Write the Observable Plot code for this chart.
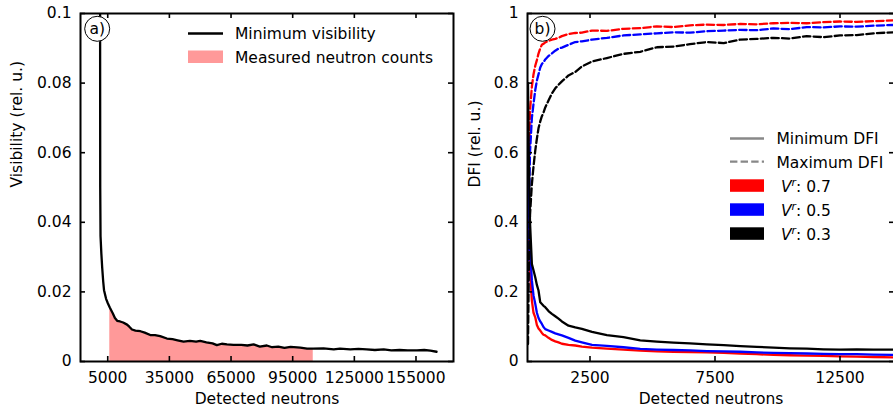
<!DOCTYPE html>
<html><head><meta charset="utf-8">
<script src="https://cdn.jsdelivr.net/npm/d3@7"></script>
<script src="https://cdn.jsdelivr.net/npm/@observablehq/plot@0.6"></script>
<style>
body{margin:0;background:#fff;overflow:hidden}
#wrap{position:relative;width:893px;height:416px;overflow:hidden;font-family:"DejaVu Sans",sans-serif;background:#fff}
#wrap > svg{position:absolute;top:0}
</style></head><body><div id="wrap"></div>
<script>
// ---- Panel a data: minimum visibility vs detected neutrons ----
const visN = [1150, 1350, 1500, 1900, 2300, 2800, 3200, 4200, 5000, 6000, 7500, 8500, 9600, 11000, 12500, 14400, 15500, 16800, 18500, 20900, 23000, 25700, 28000, 30500, 33800, 36500, 39000, 41900, 45000, 48000, 50000, 53000, 56000, 58100, 60500, 63000, 66200, 70000, 73000, 76000, 79000, 82400, 85000, 88000, 91000, 94000, 98700, 102000, 105000, 110000, 115000, 118000, 123000, 127000, 131000, 135000, 139300, 143000, 147000, 151000, 155500, 159000, 162000, 165000];
const visV = [0.2, 0.05, 0.036, 0.031, 0.027, 0.023, 0.0205, 0.018, 0.0168, 0.0155, 0.0138, 0.0125, 0.0117, 0.0115, 0.0112, 0.0106, 0.0100, 0.0092, 0.0089, 0.0087, 0.0083, 0.0076, 0.0076, 0.0073, 0.0066, 0.0064, 0.0061, 0.0057, 0.0059, 0.0057, 0.0059, 0.0055, 0.0052, 0.0047, 0.0051, 0.0049, 0.0048, 0.0048, 0.0046, 0.0049, 0.0043, 0.0046, 0.0041, 0.0043, 0.0039, 0.0042, 0.0040, 0.0037, 0.0037, 0.0038, 0.0035, 0.0037, 0.0035, 0.0036, 0.0035, 0.0033, 0.0035, 0.0032, 0.0033, 0.0032, 0.0032, 0.0033, 0.0031, 0.0028];
const countStart = 6000, countEnd = 105000;
const xTicksA = [5000, 35000, 65000, 95000, 125000, 155000];
const yTicksA = [0, 0.02, 0.04, 0.06, 0.08, 0.1];

// ---- Panel b data: DFI vs detected neutrons ----
const dfiN = [20, 50, 100, 175, 240, 310, 375, 440, 510, 575, 640, 710, 840, 975, 1110, 1240, 1375, 1640, 1910, 2175, 2580, 3175, 3840, 4510, 5175, 5840, 6500, 7175, 7850, 8510, 9170, 9840, 10500, 11170, 11840, 12500, 13170, 13840, 14620];
const maxR = [0.3, 0.55, 0.72, 0.79, 0.825, 0.85, 0.866, 0.885, 0.9, 0.91, 0.913, 0.917, 0.921, 0.925, 0.927, 0.93, 0.935, 0.941, 0.944, 0.945, 0.951, 0.95, 0.956, 0.958, 0.963, 0.961, 0.966, 0.968, 0.967, 0.970, 0.969, 0.972, 0.973, 0.972, 0.975, 0.977, 0.976, 0.978, 0.980];
const maxB = [0.2, 0.4, 0.6, 0.7, 0.74, 0.78, 0.807, 0.825, 0.845, 0.855, 0.86, 0.868, 0.878, 0.885, 0.893, 0.899, 0.902, 0.91, 0.918, 0.92, 0.925, 0.93, 0.937, 0.94, 0.943, 0.946, 0.945, 0.949, 0.951, 0.953, 0.952, 0.957, 0.955, 0.961, 0.96, 0.963, 0.962, 0.965, 0.967];
const maxK = [0.05, 0.25, 0.42, 0.51, 0.56, 0.606, 0.64, 0.67, 0.69, 0.705, 0.715, 0.73, 0.75, 0.77, 0.785, 0.795, 0.805, 0.822, 0.832, 0.848, 0.862, 0.872, 0.884, 0.89, 0.903, 0.905, 0.912, 0.918, 0.915, 0.925, 0.927, 0.93, 0.928, 0.935, 0.932, 0.937, 0.938, 0.943, 0.946];
const minR = [0.55, 0.4, 0.26, 0.175, 0.14, 0.127, 0.105, 0.095, 0.089, 0.082, 0.077, 0.075, 0.068, 0.062, 0.058, 0.055, 0.051, 0.048, 0.046, 0.043, 0.04, 0.037, 0.034, 0.031, 0.029, 0.028, 0.027, 0.026, 0.025, 0.023, 0.021, 0.019, 0.018, 0.017, 0.016, 0.015, 0.014, 0.013, 0.012];
const minB = [0.65, 0.5, 0.33, 0.233, 0.19, 0.166, 0.14, 0.125, 0.115, 0.108, 0.099, 0.093, 0.089, 0.085, 0.081, 0.078, 0.075, 0.068, 0.06, 0.055, 0.048, 0.045, 0.041, 0.036, 0.034, 0.033, 0.032, 0.03, 0.029, 0.028, 0.026, 0.025, 0.024, 0.023, 0.022, 0.021, 0.021, 0.02, 0.019];
const minK = [0.8, 0.6, 0.4, 0.28, 0.262, 0.242, 0.22, 0.204, 0.17, 0.165, 0.16, 0.156, 0.145, 0.137, 0.13, 0.123, 0.115, 0.103, 0.098, 0.094, 0.085, 0.076, 0.07, 0.061, 0.057, 0.054, 0.052, 0.049, 0.047, 0.044, 0.042, 0.04, 0.038, 0.037, 0.035, 0.034, 0.035, 0.034, 0.034];
const levels = ["0.7", "0.5", "0.3"];
const levelColors = ["#ff0000", "#0000ff", "#000000"];
const xTicksB = [2500, 7500, 12500];
const yTicksB = [0, 0.2, 0.4, 0.6, 0.8, 1];

// ---- build tables ----
const visData = visN.map((n, i) => ({n, v: visV[i]}));
const countData = visData.filter(d => d.n >= countStart && d.n <= countEnd);
const seriesB = [
  {level: "0.7", kind: "min", vals: minR}, {level: "0.7", kind: "max", vals: maxR},
  {level: "0.5", kind: "min", vals: minB}, {level: "0.5", kind: "max", vals: maxB},
  {level: "0.3", kind: "min", vals: minK}, {level: "0.3", kind: "max", vals: maxK}
];

const FS = 15.5;
const LW = 2.3;
const STYLE = {fontFamily: "'DejaVu Sans', sans-serif", fontSize: FS + "px", background: "transparent", overflow: "visible"};
const H = 416, MT = 13, MB = 55, innerH = H - MT - MB;
const fmt = d => String(d);

function frameTicks(xt, yt, innerW) {
  return [
    Plot.frame({stroke: "black", strokeWidth: 2}),
    Plot.tickX(xt, {x: d => d, insetTop: innerH - 5, stroke: "black", strokeWidth: 1.6}),
    Plot.tickX(xt, {x: d => d, insetBottom: innerH - 5, stroke: "black", strokeWidth: 1.6}),
    Plot.tickY(yt, {y: d => d, insetRight: innerW - 5, stroke: "black", strokeWidth: 1.6}),
    Plot.tickY(yt, {y: d => d, insetLeft: innerW - 5, stroke: "black", strokeWidth: 1.6}),
    Plot.axisX(xt, {tickSize: 0, tickPadding: 10, tickFormat: fmt, label: null, fill: "black"}),
    Plot.axisY(yt, {tickSize: 0, tickPadding: 9, tickFormat: fmt, label: null, fill: "black"})
  ];
}
function panelLabel(label, dx, dy) {
  return [
    Plot.dot([label], {frameAnchor: "top-left", dx, dy, r: 12.5, fill: "#ffffff", fillOpacity: 1, stroke: "black", strokeWidth: 1}),
    Plot.text([label], {text: d => d, frameAnchor: "top-left", dx, dy, textAnchor: "middle", lineAnchor: "middle", fontSize: FS, fill: "black"})
  ];
}

const WA = 460, MLA = 80, MRA = 7;
const pa = Plot.plot({
  width: WA, height: H, marginLeft: MLA, marginRight: MRA, marginTop: MT, marginBottom: MB,
  style: STYLE,
  x: {domain: [-8250, 173250]},
  y: {domain: [0, 0.1]},
  marks: [
    Plot.areaY(countData, {x: "n", y: "v", fill: "#ff9999"}),
    Plot.line(visData, {x: "n", y: "v", stroke: "black", strokeWidth: LW, clip: true}),
    ...frameTicks(xTicksA, yTicksA, WA - MLA - MRA),
    Plot.text(["Detected neutrons"], {text: d => d, frameAnchor: "bottom", dy: 42, fontSize: FS, fill: "black"}),
    Plot.text(["Visibility (rel. u.)"], {text: d => d, frameAnchor: "left", dx: -63, rotate: -90, fontSize: FS, fill: "black"}),
    ...panelLabel("a)", 16.7, 15.3)
  ]
});
pa.style.left = "0px";

const WB = 434, MLB = 67, MRB = 0;
const lineMarksB = [];
for (const s of seriesB) {
  const data = dfiN.map((n, i) => ({n, v: s.vals[i], level: s.level}));
  lineMarksB.push(Plot.line(data, {
    x: "n", y: "v", stroke: "level", strokeWidth: LW, clip: true,
    strokeDasharray: s.kind === "max" ? "7.4,3.2" : null
  }));
}
const pb = Plot.plot({
  width: WB, height: H, marginLeft: MLB, marginRight: MRB, marginTop: MT, marginBottom: MB,
  style: STYLE,
  x: {domain: [0, 14680]},
  y: {domain: [0, 1]},
  color: {domain: levels, range: levelColors},
  marks: [
    ...lineMarksB,
    ...frameTicks(xTicksB, yTicksB, WB - MLB - MRB),
    Plot.text(["Detected neutrons"], {text: d => d, frameAnchor: "bottom", dy: 42, fontSize: FS, fill: "black"}),
    Plot.text(["DFI (rel. u.)"], {text: d => d, frameAnchor: "left", dx: -52, rotate: -90, fontSize: FS, fill: "black"}),
    ...panelLabel("b)", 15, 15.3)
  ]
});
pb.style.left = WA + "px";

const wrap = document.getElementById("wrap");
wrap.appendChild(pa);
wrap.appendChild(pb);

// ---- legends ----
const NS = "http://www.w3.org/2000/svg";
const leg = document.createElementNS(NS, "svg");
leg.setAttribute("width", 893); leg.setAttribute("height", 416);
leg.style.position = "absolute"; leg.style.left = "0px"; leg.style.top = "0px";
leg.setAttribute("font-family", "'DejaVu Sans', sans-serif");
leg.setAttribute("font-size", FS);
let html = "";
// panel a legend
html += `<line x1="188" x2="223" y1="33.5" y2="33.5" stroke="black" stroke-width="${LW}"/>`;
html += `<text x="235" y="39">Minimum visibility</text>`;
html += `<rect x="188" y="50.5" width="35" height="12.5" fill="#ff9999"/>`;
html += `<text x="235" y="62.5">Measured neutron counts</text>`;
// panel b legend
html += `<line x1="730" x2="764" y1="138.5" y2="138.5" stroke="#888" stroke-width="${LW}"/>`;
html += `<text x="776.5" y="144.3">Minimum DFI</text>`;
html += `<line x1="730" x2="764" y1="161.7" y2="161.7" stroke="#888" stroke-width="${LW}" stroke-dasharray="7.4,3.2"/>`;
html += `<text x="776.5" y="167.6">Maximum DFI</text>`;
levels.forEach((lv, i) => {
  const yTop = 179.3 + i * 24;
  html += `<rect x="730" y="${yTop}" width="34" height="12.5" fill="${levelColors[i]}"/>`;
  html += `<text x="781" y="${yTop + 12.4}"><tspan font-style="italic">V</tspan><tspan font-style="italic" font-size="${FS * 0.7}" dy="-6">r</tspan><tspan dy="6">: ${lv}</tspan></text>`;
});
leg.innerHTML = html;
wrap.appendChild(leg);
</script></body></html>
